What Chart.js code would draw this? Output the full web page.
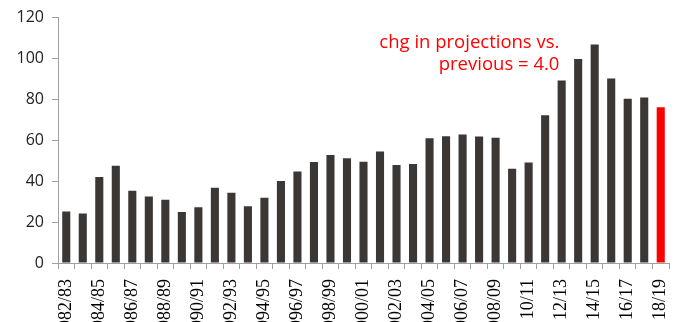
<!DOCTYPE html>
<html>
<head>
<meta charset="utf-8">
<script src="https://cdn.jsdelivr.net/npm/chart.js@4.4.1/dist/chart.umd.min.js"></script>
<style>
html,body{margin:0;padding:0;background:#fff;overflow:hidden;}
#wrap{width:678px;height:322px;}
</style>
</head>
<body>
<div id="wrap"><canvas id="c" width="678" height="322"></canvas></div>
<script>
const categories = ["1982/83","1983/84","1984/85","1985/86","1986/87","1987/88","1988/89","1989/90","1990/91","1991/92",
  "1992/93","1993/94","1994/95","1995/96","1996/97","1997/98","1998/99","1999/00","2000/01","2001/02",
  "2002/03","2003/04","2004/05","2005/06","2006/07","2007/08","2008/09","2009/10","10/11","11/12",
  "12/13","13/14","14/15","15/16","16/17","17/18","18/19"];
const values = [25.2,24.2,42.1,47.6,35.3,32.5,30.9,24.9,27.3,36.8,
  34.4,27.7,31.9,40.1,44.7,49.4,52.8,51.2,49.5,54.5,
  47.9,48.4,61.0,62.0,62.8,61.8,61.3,46.1,49.2,72.2,
  89.3,99.8,106.9,90.2,80.3,80.9,76.2];
const highlightIndex = 36;
const yTicks = [0,20,40,60,80,100,120];
const noteLines = ["chg in projections vs.", "previous = 4.0"];

const barColors = values.map((v,i)=> i===highlightIndex ? '#ff0000' : '#3b3735');

const notePlugin = {
  id:'note',
  afterDraw(chart){
    const ctx = chart.ctx;
    const xs = chart.scales.x, ys = chart.scales.y;
    ctx.save();
    ctx.fillStyle = '#ff0000';
    ctx.font = '18.5px "Open Sans", sans-serif';
    ctx.textAlign = 'right';
    ctx.textBaseline = 'middle';
    const xr = (xs.getPixelForValue(29) + xs.getPixelForValue(30))/2 + 6;
    ctx.fillText(noteLines[0], xr, ys.getPixelForValue(107.5));
    ctx.fillText(noteLines[1], xr, ys.getPixelForValue(97));
    ctx.restore();
  }
};

new Chart(document.getElementById('c'), {
  type:'bar',
  data:{
    labels:categories,
    datasets:[{
      data:values,
      backgroundColor:barColors,
      borderWidth:0,
      barPercentage:0.49,
      categoryPercentage:1.0
    }]
  },
  options:{
    responsive:false,
    animation:false,
    layout:{padding:{top:16,right:9,left:0,bottom:0}},
    plugins:{legend:{display:false},tooltip:{enabled:false}},
    scales:{
      x:{
        grid:{display:true,drawOnChartArea:false,offset:true,color:'#a0a0a0',tickLength:6},
        border:{display:true,color:'#a0a0a0'},
        ticks:{
          autoSkip:false,maxRotation:90,minRotation:90,color:'#000',
          font:{family:'"Liberation Serif"',size:18},
          padding:10,
          callback:function(v,i){return i%2===0 ? categories[i] : '';}
        },
        afterFit:function(s){s.height=59;s.paddingLeft=0;s.paddingRight=0;}
      },
      y:{
        min:0,max:120,
        grid:{display:true,drawOnChartArea:false,color:'#a0a0a0',tickLength:6},
        border:{display:true,color:'#a0a0a0'},
        afterBuildTicks:function(s){s.ticks=yTicks.map(v=>({value:v}));},
        ticks:{color:'#222',font:{family:'"Open Sans"',size:16},padding:8},
        afterFit:function(s){s.width=58;}
      }
    }
  },
  plugins:[notePlugin]
});
</script>
</body>
</html>
